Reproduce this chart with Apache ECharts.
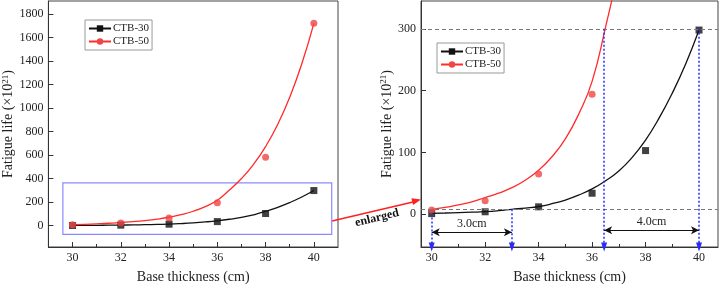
<!DOCTYPE html>
<html>
<head>
<meta charset="utf-8">
<script src="https://cdn.jsdelivr.net/npm/echarts@6/dist/echarts.min.js"></script>
<style>
html, body { margin: 0; padding: 0; background: #fff; }
#main { width: 719px; height: 289px; }
</style>
</head>
<body>
<div id="main"></div>
<script>
var myChart = echarts.init(document.getElementById('main'));

// measured points
var thickness = [30, 32, 34, 36, 38, 40];
var ctb30 = [1, 4, 12, 34, 103, 298];
var ctb50 = [7, 22, 65, 194, 581, 1720];

// fitted curves, every 0.5 cm
var fitX = [30, 30.5, 31, 31.5, 32, 32.5, 33, 33.5, 34, 34.5, 35, 35.5, 36, 36.5, 37, 37.5, 38, 38.5, 39, 39.5, 40];
var fit30 = [1.5, 2, 2.6, 3.3, 4.2, 5.8, 8, 10, 12.5, 17, 23, 31, 41, 54, 70, 92, 120, 155, 196, 243, 298];
var fit50 = [7.5, 11, 15, 20, 27, 34, 43, 55, 71, 93, 122, 162, 215, 302, 400, 521, 672, 860, 1092, 1376, 1720];

// tick labels
var xMajor = [30, 32, 34, 36, 38, 40];
var xMinor = [31, 33, 35, 37, 39];
var yLeftTicks = [0, 200, 400, 600, 800, 1000, 1200, 1400, 1600, 1800];
var yRightTicks = [0, 100, 200, 300];

// annotations in the enlarged chart
var lowLevel = 8, highLevel = 300;
var span30 = [30, 33];      // 3.0cm
var span50 = [36.45, 40];   // 4.0cm

var serif = '"Liberation Serif", "Times New Roman", serif';
var red = '#ff2a2a', redDot = '#f04545', black = '#111';

function zip(xs, ys) {
    return xs.map(function (x, i) { return [x, ys[i]]; });
}

function xAxes(grid, min, max) {
    return [{
        gridIndex: grid, type: 'value', min: min, max: max, position: 'bottom',
        axisLine: { onZero: false, lineStyle: { color: '#333' } },
        axisTick: { inside: true, length: 5, customValues: xMajor, lineStyle: { color: '#333' } },
        axisLabel: { customValues: xMajor, color: '#222', fontFamily: serif, fontSize: 12, margin: 5 },
        splitLine: { show: false },
        name: 'Base thickness (cm)', nameLocation: 'middle', nameGap: 23,
        nameTextStyle: { color: '#222', fontFamily: serif, fontSize: 14 }
    }, {
        gridIndex: grid, type: 'value', min: min, max: max, position: 'bottom',
        axisLine: { show: false, onZero: false },
        axisTick: { inside: true, length: 3, customValues: xMinor, lineStyle: { color: '#333' } },
        axisLabel: { show: false },
        splitLine: { show: false }
    }];
}

function yAxis(grid, min, max, ticks, gap) {
    return {
        gridIndex: grid, type: 'value', min: min, max: max,
        axisLine: { show: true, onZero: false, lineStyle: { color: '#333' } },
        axisTick: { show: true, inside: true, length: 5, customValues: ticks, lineStyle: { color: '#333' } },
        axisLabel: {
            customValues: ticks, color: '#222', fontFamily: serif, fontSize: 12, margin: 5,
            formatter: function (v) { return String(v); }
        },
        splitLine: { show: false },
        name: '{a|Fatigue life (×10}{s|21}{a|)}', nameLocation: 'middle', nameGap: gap, nameRotate: 90,
        nameTextStyle: {
            rich: {
                a: { color: '#222', fontFamily: serif, fontSize: 14 },
                s: { color: '#222', fontFamily: serif, fontSize: 9, verticalAlign: 'top', padding: [0, 0, 6, 0] }
            }
        }
    };
}

function fitSeries(name, ys, color, symbol, xi, yi) {
    return {
        name: name, type: 'line', xAxisIndex: xi, yAxisIndex: yi,
        data: zip(fitX, ys), smooth: true, showSymbol: false,
        symbol: symbol, symbolSize: 7,
        itemStyle: { color: color === red ? redDot : color },
        lineStyle: { color: color, width: 1.3 },
        silent: true, z: 2
    };
}

function pointSeries(name, ys, color, symbol, xi, yi) {
    return {
        name: name, type: 'scatter', xAxisIndex: xi, yAxisIndex: yi,
        data: zip(thickness, ys), symbol: symbol, symbolSize: 7,
        itemStyle: { color: color }, z: 3
    };
}

function legend(left, top) {
    return {
        data: ['CTB-30', 'CTB-50'], orient: 'vertical', left: left, top: top,
        itemWidth: 22, itemHeight: 8, itemGap: 2, padding: [3, 3, 3, 3],
        borderColor: '#999', borderWidth: 1, borderRadius: 0,
        textStyle: { color: '#222', fontFamily: serif, fontSize: 11, padding: [0, 0, 0, -3] }
    };
}

var s0 = fitSeries('CTB-30', fit30, black, 'rect', 0, 0);
var s1 = fitSeries('CTB-50', fit50, red, 'circle', 0, 0);
var s2 = pointSeries('CTB-30', ctb30, black, 'rect', 0, 0);
var s3 = pointSeries('CTB-50', ctb50, redDot, 'circle', 0, 0);
var s4 = fitSeries('CTB-30', fit30, black, 'rect', 2, 1);
var s5 = fitSeries('CTB-50', fit50, red, 'circle', 2, 1);
var s6 = pointSeries('CTB-30', ctb30, black, 'rect', 2, 1);
var s7 = pointSeries('CTB-50', ctb50, redDot, 'circle', 2, 1);

// blue frame marking the enlarged region
s0.markArea = {
    silent: true,
    itemStyle: { color: 'rgba(0,0,0,0)', borderColor: '#8a8aff', borderWidth: 1.2 },
    data: [[{ coord: [29.6, 364] }, { coord: [40.74, -74] }]]
};

// grey dashed levels
s4.markLine = {
    silent: true, animation: false, symbol: ['none', 'none'],
    label: { show: false },
    lineStyle: { color: '#777', type: [4, 3], width: 1 },
    data: [{ yAxis: highLevel }, { yAxis: lowLevel }]
};

// blue dotted drops with arrow heads
var yBottom = -53;
function drop(x, yTop) {
    return [
        { coord: [x, yTop], symbol: 'none' },
        { coord: [x, yBottom], symbol: 'triangle', symbolSize: [6, 9], symbolRotate: 180 }
    ];
}
s5.markLine = {
    silent: true, animation: false, symbol: ['none', 'none'],
    label: { show: false },
    itemStyle: { color: '#2b2bff' },
    lineStyle: { color: '#2b2bff', type: [2, 2], width: 1.5 },
    data: [
        drop(span30[0], ctb30[0]),
        drop(span30[1], lowLevel),
        drop(span50[0], highLevel),
        drop(span50[1], highLevel)
    ]
};

// black double arrows with spans
function span(pair, y, text) {
    return [
        { coord: [pair[0], y], label: { formatter: text } },
        { coord: [pair[1], y] }
    ];
}
s6.markLine = {
    silent: true, animation: false, symbol: ['arrow', 'arrow'], symbolSize: [6, 8],
    itemStyle: { color: '#111' },
    lineStyle: { color: '#111', type: 'solid', width: 1 },
    label: { show: true, position: 'middle', color: '#222', fontFamily: serif, fontSize: 12, distance: 2 },
    data: [span(span30, -29, '3.0cm'), span(span50, -26, '4.0cm')]
};

option = {
    backgroundColor: '#fff',
    animation: false,
    grid: [
        { left: 42, top: 1, right: 381, bottom: 36, show: true, borderColor: '#444', borderWidth: 1 },
        { left: 421, top: 1, right: 1, bottom: 35, show: true, borderColor: '#444', borderWidth: 1 }
    ],
    legend: [legend(85, 20), legend(437, 43)],
    xAxis: xAxes(0, 29, 41).concat(xAxes(1, 29.6, 40.71)),
    yAxis: [
        yAxis(0, -182, 1910, yLeftTicks, 29),
        yAxis(1, -53, 345, yRightTicks, 23)
    ],
    series: [s0, s1, s2, s3, s4, s5, s6, s7],
    graphic: [
        {
            type: 'line', silent: true,
            shape: { x1: 332, y1: 221, x2: 413, y2: 202 },
            style: { stroke: '#ff2020', lineWidth: 1.5 }
        },
        {
            type: 'polygon', silent: true,
            shape: { points: [[421, 199.5], [413.1, 205.0], [411.4, 198.2]] },
            style: { fill: '#ff2020' }
        },
        {
            type: 'text', silent: true, x: 377, y: 218, rotation: 0.24,
            style: {
                text: 'enlarged', x: 0, y: 0, align: 'center', verticalAlign: 'middle',
                fill: '#111', font: 'bold 12px ' + serif
            }
        }
    ]
};
myChart.setOption(option);
</script>
</body>
</html>
